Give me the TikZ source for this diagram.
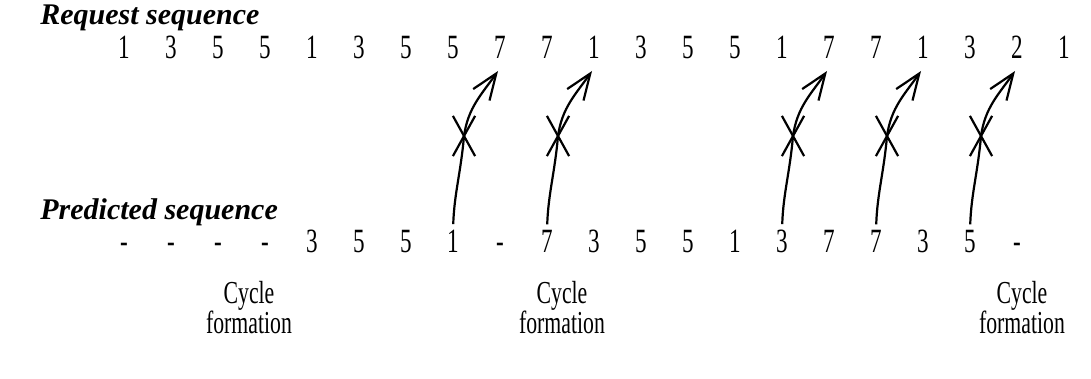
\documentclass[tikz,border=0pt]{standalone}
\usepackage{fontspec}
\setmainfont{Liberation Serif}
\newfontfamily\narrowserif[FakeStretch=0.68]{Liberation Serif}
\usetikzlibrary{arrows.meta,positioning,shapes.misc}

\tikzset{
    seqtitle/.style={font=\fontsize{15}{15}\selectfont\bfseries\itshape, inner sep=0pt, anchor=west},
    seqnum/.style={font=\narrowserif\fontsize{17}{17}\selectfont, inner sep=0pt, anchor=base},
    cyclelabel/.style={font=\narrowserif\fontsize{16}{15}\selectfont, align=center, inner sep=0pt},
    wrong/.style={cross out, draw, line width=1.1pt, minimum width=10pt, minimum height=19pt, inner sep=0pt},
    link/.style={line width=1.1pt}
}

\begin{document}
\begin{tikzpicture}[x=0.5pt, y=0.5pt]
    % Frame
    \useasboundingbox (0,0) rectangle (1091,379);
    % Titles
    \node[seqtitle] (reqtitle) at (40,361) {Request sequence};
    \node[seqtitle] (predtitle) at (40,167) {Predicted sequence};
    % Request sequence
    \foreach \v [count=\i from 0] in {1,3,5,5,1,3,5,5,7,7,1,3,5,5,1,7,7,1,3,2,1} {
        \node[seqnum] (r\i) at ({124+47*\i},320) {\v};
    }
    % Predicted sequence
    \foreach \v [count=\i from 0] in {-,-,-,-,3,5,5,1,-,7,3,5,5,1,3,7,7,3,5,-} {
        \node[seqnum] (p\i) at ({124+47*\i},126) {\v};
    }
    % Wrong predictions
    \foreach \j in {7,9,14,16,18} {
        \pgfmathtruncatemacro{\k}{\j+1}
        \node[wrong] (x\j) at ({124+47*\j+11},243) {};
        \coordinate (t\k) at ({124+47*\k-2},308);
        \draw[link, shorten <=3pt] (p\j.north) to[out=88,in=265] (x\j.center);
        \draw[link, -{Straight Barb[length=13pt,width=10pt]}] (x\j.center) to[out=82,in=235] (t\k);
    }
    % Cycle formation
    \node[cyclelabel] (cyc1) at (249,71) {Cycle\\formation};
    \node[cyclelabel] (cyc2) at (562,71) {Cycle\\formation};
    \node[cyclelabel] (cyc3) at (1022,71) {Cycle\\formation};
\end{tikzpicture}
\end{document}
